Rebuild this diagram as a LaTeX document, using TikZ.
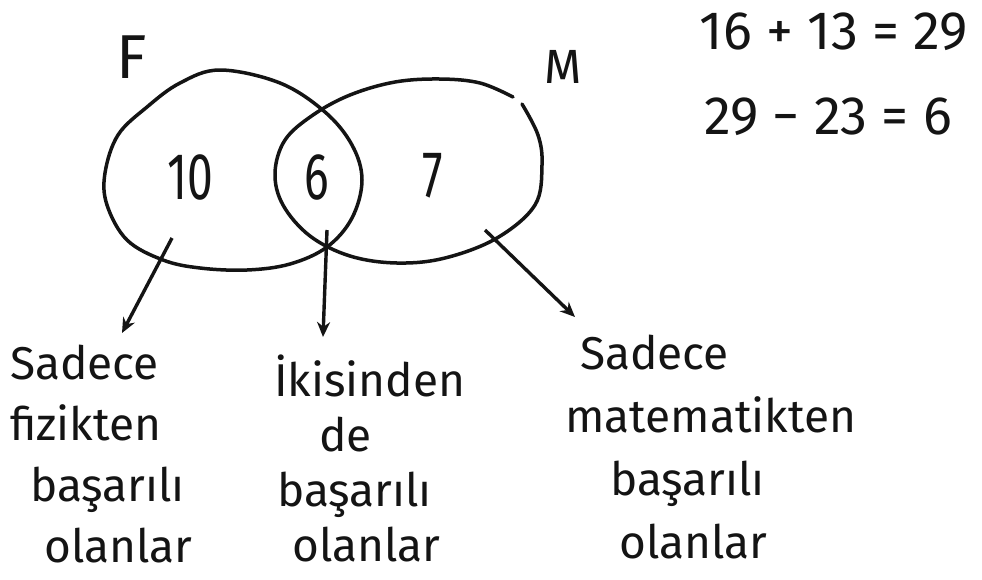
\documentclass[tikz,border=0pt]{standalone}
\usepackage{fontspec}
\setmainfont{Fira Sans}
\newfontfamily\narrowdigits{Fira Sans}[FakeStretch=0.7]
\usepackage{tikz}
\usetikzlibrary{arrows.meta,positioning,calc}
\definecolor{mInk}{RGB}{20,20,20}
\tikzset{
setline/.style={draw=mInk,line width=3.5pt,line join=round},
setname/.style={inner sep=0pt,font=\fontsize{#1}{#1}\selectfont,text=mInk},
count/.style={inner sep=0pt,font=\narrowdigits\fontsize{66}{66}\selectfont,text=mInk},
equation/.style={inner sep=0pt,font=\fontsize{54}{60}\selectfont,text=mInk},
caption/.style={inner sep=0pt,align=left,anchor=north west,font=\fontsize{46}{#1}\selectfont,text=mInk},
caption/.default=61,
arrow/.style={-{Stealth[length=15pt,width=13pt]},line width=3.4pt,draw=mInk}
}

\begin{document}
\begin{tikzpicture}[x=1pt,y=-1pt]
\useasboundingbox[fill=white] (0,0) rectangle (982,579);
% the two sets
\draw[setline] plot[smooth cycle,tension=0.6] coordinates {(220,70) (280,83) (325,112) (352,145) (362,180) (352,218) (327,247) (290,264) (247,270) (200,268) (163,260) (127,240) (107,205) (105,173) (118,135) (147,107) (180,83)};
\draw[setline,line cap=round] plot[smooth,tension=0.6] coordinates {(522,104) (538,135) (542,165) (535,205) (497,238) (445,258) (397,263) (350,256) (310,236) (283,205) (275,173) (285,140) (313,115) (350,95) (395,82) (440,79) (480,83) (513,97)};
\node[setname=62] (lF) at (132,57) {F};
\node[setname=48] (lM) at (563,67) {M};
% counts
\node[count] (n10) at (190,177) {10};
\node[count] (n6) at (317,177) {6};
\node[count] (n7) at (433,176) {7};
% sums
\node[equation] (eq1) at (834,32) {16 + 13 = 29};
\node[equation] (eq2) at (828,117) {29 − 23 = 6};
% captions
\node[caption] (onlyF) at (10,345) {Sadece\\fizikten\\\hspace*{20pt}başarılı\\\hspace*{34pt}olanlar};
\node[caption=55] (both) at (274,355) {İkisinden\\\hspace*{45pt}de\\\hspace*{3pt}başarılı\\\hspace*{18pt}olanlar};
\node[caption=63] (onlyM) at (565,335) {\hspace*{15pt}Sadece\\matematikten\\\hspace*{45pt}başarılı\\\hspace*{54pt}olanlar};
\coordinate (from10) at (172,238);
\coordinate (from6) at (327,230);
\coordinate (from7) at (485,230);
\draw[arrow] (from10) -- ([xshift=112pt,yshift=12pt]onlyF.north west);
\draw[arrow] (from6) -- ([xshift=49pt,yshift=18pt]both.north west);
\draw[arrow] (from7) -- ([xshift=10pt,yshift=18pt]onlyM.north west);
\end{tikzpicture}
\end{document}
